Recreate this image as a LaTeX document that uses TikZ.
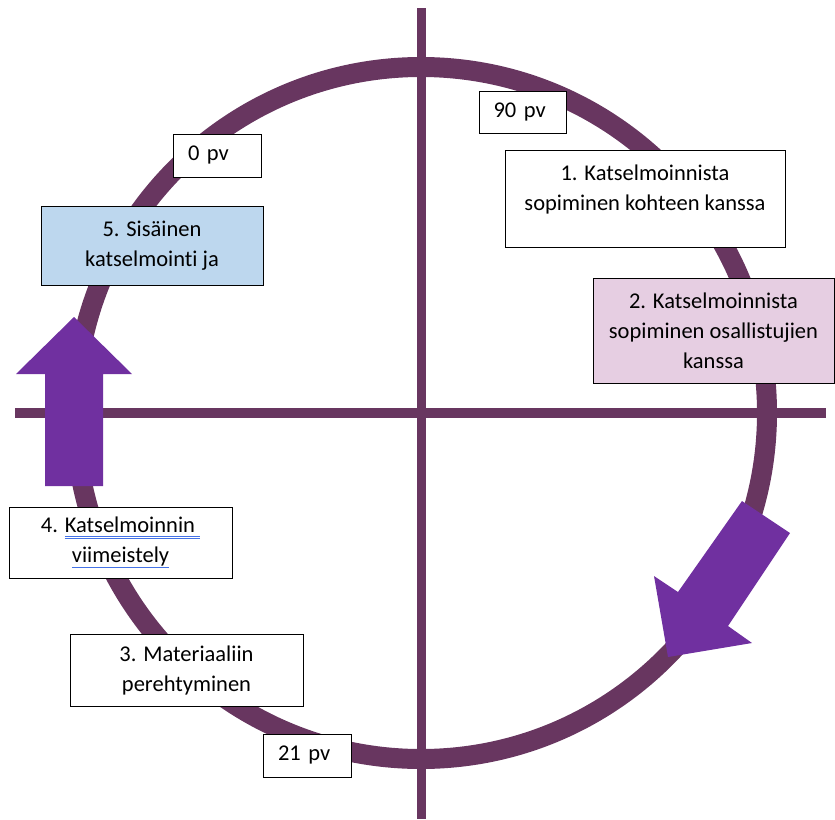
\documentclass[tikz,border=0pt]{standalone}
\usepackage{fontspec}
\setmainfont{Carlito}[RawFeature={-liga}]
\definecolor{ringcol}{RGB}{104,54,96}
\definecolor{arrowcol}{RGB}{112,48,160}
\definecolor{pinkfill}{RGB}{230,206,226}
\definecolor{bluefill}{RGB}{189,215,238}
\definecolor{ulblue}{RGB}{68,114,230}
\newcommand\bluedbl[1]{\leavevmode\setbox0\hbox{#1}\rlap{\textcolor{ulblue}{\rule[-3.5pt]{\wd0}{0.8pt}}}\rlap{\textcolor{ulblue}{\rule[-6.3pt]{\wd0}{0.8pt}}}\box0}
\newcommand\bluesgl[1]{\leavevmode\setbox0\hbox{#1}\rlap{\textcolor{ulblue}{\rule[-5pt]{\wd0}{1pt}}}\box0}
\begin{document}
\begin{tikzpicture}[x=1pt,y=-1pt,
  box/.style={draw=black, line width=1pt, fill=white, inner sep=0pt, align=center,
    font=\fontsize{22.5}{30}\selectfont},
  pvbox/.style={box, text width=58pt, align=left, minimum width=88pt, minimum height=43pt},
  axisline/.style={draw=ringcol},
  bigarrow/.style={fill=arrowcol, draw=none}]
\useasboundingbox (0,0) rectangle (835,819);
% ring
\coordinate (c) at (421,413);
\draw[ringcol, line width=20pt] (c) circle[radius=346pt];
% axes
\coordinate (vt) at (421,8);
\coordinate (vb) at (421,819);
\coordinate (hl) at (15,413);
\coordinate (hr) at (826,413);
\draw[axisline, line width=9pt] (vt) -- (vb);
\draw[axisline, line width=10.5pt] (hl) -- (hr);
% arrows
\fill[bigarrow] (45,486) -- (45,374) -- (16,374) -- (74,317) -- (132,374) -- (103,374) -- (103,486) -- cycle;
\fill[bigarrow] (742,501) -- (790,533) -- (728,626) -- (752,643) -- (668,657) -- (654,576) -- (678,592) -- cycle;
% boxes
\node[box, minimum width=280pt, minimum height=97pt] (b1) at (645,198.5)
  {1. Katselmoinnista\\sopiminen kohteen kanssa\\[-8pt]\mbox{}};
\node[box, fill=pinkfill, minimum width=241pt, minimum height=105pt] (b2) at (713.5,330.5)
  {2. Katselmoinnista\\sopiminen osallistujien\\kanssa};
\node[box, fill=bluefill, minimum width=222pt, minimum height=79pt] (b5) at (152,245.5)
  {5. Sisäinen\\katselmointi ja};
\node[box, minimum width=223pt, minimum height=71pt] (b4) at (120.5,542.5)
  {4. \bluedbl{Katselmoinnin\ }\\\bluesgl{viimeistely}};
\node[box, minimum width=233pt, minimum height=72pt] (b3) at (186.5,670)
  {3. Materiaaliin\\perehtyminen};
\node[pvbox, minimum width=87pt, minimum height=42pt] (p90) at (522.5,112) {90 pv};
\node[pvbox] (p0) at (217,155.5) {0 pv};
\node[pvbox] (p21) at (307,755.5) {21 pv};
\end{tikzpicture}
\end{document}
